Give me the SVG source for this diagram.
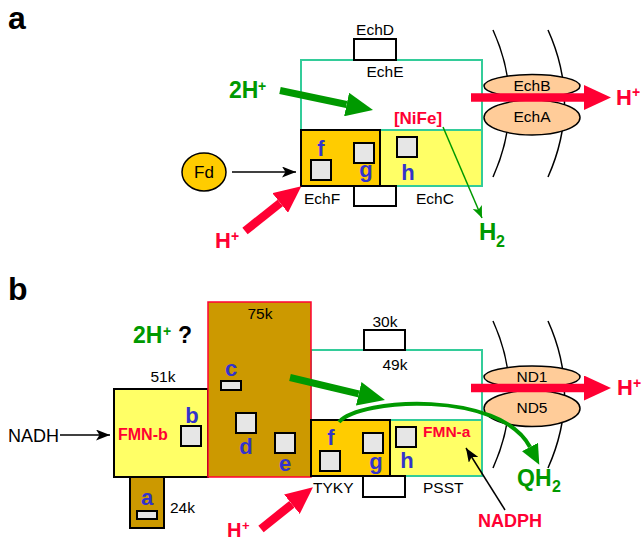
<svg xmlns="http://www.w3.org/2000/svg" width="644" height="542" viewBox="0 0 644 542">
<defs>
<style>
text{font-family:"Liberation Sans",Arial,Helvetica,sans-serif}
.lb{font-size:15.5px;fill:#000}
.pl{font-size:32px;font-weight:bold;fill:#000}
.bl{font-size:22px;font-weight:bold;fill:#3333cc;text-anchor:middle}
.rd{font-weight:bold;fill:#ff0033}
.gn{font-weight:bold;fill:#009900}
.box{fill:#fff;stroke:#000;stroke-width:2}
.teal{fill:#fff;stroke:#33cc99;stroke-width:2}
.yel{fill:#ffff66;stroke:#33cc99;stroke-width:2}
.org{fill:#ffcc00;stroke:#000;stroke-width:2}
.brn{fill:#cc9900;stroke:#000;stroke-width:2}
.sq{fill:#e6e6e6;stroke:#000;stroke-width:2}
.ell{fill:#ffcc99;stroke:#000;stroke-width:1.5}
.mem{fill:none;stroke:#000;stroke-width:1.5}
.thickG{fill:none;stroke:#009900;stroke-width:7}
.thickR{fill:none;stroke:#ff0033;stroke-width:8.5}
.thin{fill:none;stroke:#000;stroke-width:1.5}
</style>
<marker id="ahG" markerUnits="userSpaceOnUse" viewBox="0 0 27 24" markerWidth="27" markerHeight="24" refX="0" refY="12" orient="auto"><path d="M0,0 L27,12 L0,24 z" fill="#009900"/></marker>
<marker id="ahR" markerUnits="userSpaceOnUse" viewBox="0 0 27 25" markerWidth="27" markerHeight="25" refX="0" refY="12.5" orient="auto"><path d="M0,0 L27,12.5 L0,25 z" fill="#ff0033"/></marker>
<marker id="ahK" markerUnits="userSpaceOnUse" viewBox="0 0 14 11" markerWidth="14" markerHeight="11" refX="14" refY="5.5" orient="auto"><path d="M0,0 L14,5.5 L0,11 L3.5,5.5 z" fill="#000"/></marker>
<marker id="ahg" markerUnits="userSpaceOnUse" viewBox="0 0 12 10" markerWidth="12" markerHeight="10" refX="12" refY="5" orient="auto"><path d="M0,0 L12,5 L0,10 L3,5 z" fill="#009900"/></marker>
<marker id="ahC" markerUnits="userSpaceOnUse" viewBox="0 0 20 18" markerWidth="20" markerHeight="18" refX="0" refY="9" orient="auto"><path d="M0,0 L20,9 L0,18 z" fill="#009900"/></marker>
</defs>

<!-- Panel a -->
<text class="pl" x="8" y="29">a</text>

<g id="echE">
<rect class="teal" x="301" y="60" width="181" height="70"/>
<text class="lb" x="385" y="77" text-anchor="middle">EchE</text>
<text class="rd" x="418" y="124" font-size="17" text-anchor="middle">[NiFe]</text>
</g>
<g id="echD">
<rect class="box" x="354" y="39" width="42" height="21"/>
<text class="lb" x="375" y="35" text-anchor="middle">EchD</text>
</g>
<g id="echC">
<rect class="yel" x="301" y="130" width="181" height="56"/>
<rect class="sq" x="397" y="137" width="20" height="20"/>
<text class="bl" x="408" y="180">h</text>
<text class="lb" x="416" y="204">EchC</text>
</g>
<g id="echF">
<rect class="org" x="301" y="130" width="79" height="56"/>
<rect class="sq" x="311" y="160" width="20" height="20"/>
<rect class="sq" x="354" y="143" width="20" height="20"/>
<text class="bl" x="321" y="156">f</text>
<text class="bl" x="366" y="177">g</text>
<text class="lb" x="304" y="204">EchF</text>
</g>
<g id="echSub">
<rect class="box" x="354" y="186" width="42" height="20"/>
</g>
<g id="fd">
<ellipse cx="204" cy="172" rx="22" ry="19" fill="#ffcc00" stroke="#000" stroke-width="1.5"/>
<text x="204" y="178" font-size="17" text-anchor="middle">Fd</text>
</g>
<g id="membraneA">
<path class="mem" d="M493,30 Q526,103 493,177"/>
<path class="mem" d="M548,30 Q581,103 548,177"/>
</g>
<g id="echA">
<ellipse class="ell" cx="532" cy="117.5" rx="48" ry="17.5"/>
<text class="lb" x="532" y="122" text-anchor="middle">EchA</text>
</g>
<g id="echB">
<ellipse class="ell" cx="532" cy="86" rx="48" ry="11.5"/>
<text class="lb" x="532" y="91" text-anchor="middle">EchB</text>
</g>

<!-- Panel b -->
<text class="pl" x="8" y="300">b</text>

<g id="n49k">
<rect class="teal" x="311" y="350" width="171" height="70"/>
<text class="lb" x="395" y="370" text-anchor="middle">49k</text>
</g>
<g id="n30k">
<rect class="box" x="364" y="330" width="41" height="20"/>
<text class="lb" x="385" y="327" text-anchor="middle">30k</text>
</g>
<g id="n51k">
<rect fill="#ffff66" stroke="#000" stroke-width="2" x="114" y="389" width="94" height="88"/>
<text class="lb" x="163" y="382" text-anchor="middle">51k</text>
<text class="rd" x="118" y="440" font-size="16">FMN-b</text>
<rect class="sq" x="181" y="426" width="20" height="20"/>
<text class="bl" x="192" y="423">b</text>
</g>
<g id="n75k">
<rect fill="#cc9900" stroke="#ff0033" stroke-width="1.5" x="208" y="302" width="103" height="175"/>
<text class="lb" x="260" y="319" text-anchor="middle">75k</text>
<rect class="sq" x="221" y="381" width="20" height="9"/>
<text class="bl" x="231" y="376">c</text>
<rect class="sq" x="236" y="413" width="20" height="20"/>
<text class="bl" x="246" y="454">d</text>
<rect class="sq" x="275" y="433" width="20" height="20"/>
<text class="bl" x="285" y="471">e</text>
</g>
<g id="n24k">
<rect class="brn" x="130" y="477" width="34" height="51"/>
<rect class="sq" x="137" y="511" width="20" height="8"/>
<text class="bl" x="147" y="505">a</text>
<text class="lb" x="170" y="513">24k</text>
</g>
<g id="psst">
<rect class="yel" x="311" y="420" width="171" height="56"/>
<rect class="sq" x="396" y="427" width="20" height="20"/>
<text class="bl" x="407" y="468">h</text>
<text class="rd" x="423" y="437" font-size="15.5">FMN-a</text>
<text class="lb" x="423" y="493">PSST</text>
</g>
<g id="tyky">
<rect class="org" x="311" y="420" width="79" height="56"/>
<rect class="sq" x="320" y="451" width="20" height="20"/>
<rect class="sq" x="363" y="433" width="20" height="20"/>
<text class="bl" x="331" y="445">f</text>
<text class="bl" x="376" y="469">g</text>
<text class="lb" x="313" y="493">TYKY</text>
</g>
<g id="nSub">
<rect class="box" x="363" y="476" width="42" height="21"/>
</g>
<g id="membraneB">
<path class="mem" d="M493,321 Q526,394 493,468"/>
<path class="mem" d="M548,321 Q581,394 548,468"/>
</g>
<g id="nd5">
<ellipse class="ell" cx="532" cy="408.5" rx="48" ry="18"/>
<text class="lb" x="532" y="413" text-anchor="middle">ND5</text>
</g>
<g id="nd1">
<ellipse class="ell" cx="532" cy="377" rx="48" ry="11"/>
<text class="lb" x="532" y="382" text-anchor="middle">ND1</text>
</g>

<!-- Connectors -->
<g id="connectors">
<line class="thickG" x1="280" y1="90.5" x2="346.6" y2="104.5" marker-end="url(#ahG)"/>
<line class="thickR" x1="245" y1="231" x2="280.2" y2="203" marker-end="url(#ahR)"/>
<line class="thickR" x1="471" y1="97.5" x2="584" y2="97.5" marker-end="url(#ahR)"/>
<line fill="none" stroke="#009900" stroke-width="1.5" x1="443" y1="127" x2="482" y2="218" marker-end="url(#ahg)"/>
<line class="thin" x1="232" y1="172" x2="296" y2="172" marker-end="url(#ahK)"/>

<line class="thickG" x1="290" y1="377.5" x2="358.7" y2="393.8" marker-end="url(#ahG)"/>
<path fill="none" stroke="#009900" stroke-width="4" d="M339,422 C360,398 500,390 530,447" marker-end="url(#ahC)"/>
<line class="thickR" x1="261" y1="529" x2="291.9" y2="504.2" marker-end="url(#ahR)"/>
<line class="thickR" x1="471" y1="388" x2="584" y2="388" marker-end="url(#ahR)"/>
<line class="thin" x1="60" y1="435" x2="110" y2="435" marker-end="url(#ahK)"/>
<line class="thin" x1="505" y1="510" x2="466" y2="448" marker-end="url(#ahK)"/>
</g>

<!-- Free labels -->
<text class="gn" x="229" y="98" font-size="23">2H</text>
<text class="gn" x="258" y="91" font-size="14">+</text>
<text class="rd" x="215" y="248" font-size="22">H</text>
<text class="rd" x="231" y="241" font-size="14">+</text>
<text class="rd" x="616" y="105" font-size="22">H</text>
<text class="rd" x="632" y="97" font-size="14">+</text>
<text class="gn" x="479" y="240" font-size="24">H</text>
<text class="gn" x="496" y="247" font-size="16">2</text>

<text class="gn" x="133" y="343" font-size="23">2H</text>
<text class="gn" x="163" y="336" font-size="14">+</text>
<text x="178" y="343" font-size="23" font-weight="bold">?</text>
<text x="8" y="442" font-size="18">NADH</text>
<text class="rd" x="510" y="527" font-size="18" text-anchor="middle">NADPH</text>
<text class="gn" x="517" y="486" font-size="23">QH</text>
<text class="gn" x="552" y="492" font-size="16">2</text>
<text class="rd" x="617" y="395" font-size="22">H</text>
<text class="rd" x="633" y="388" font-size="14">+</text>
<text class="rd" x="227" y="537" font-size="20">H</text>
<text class="rd" x="242" y="530" font-size="13">+</text>
</svg>
